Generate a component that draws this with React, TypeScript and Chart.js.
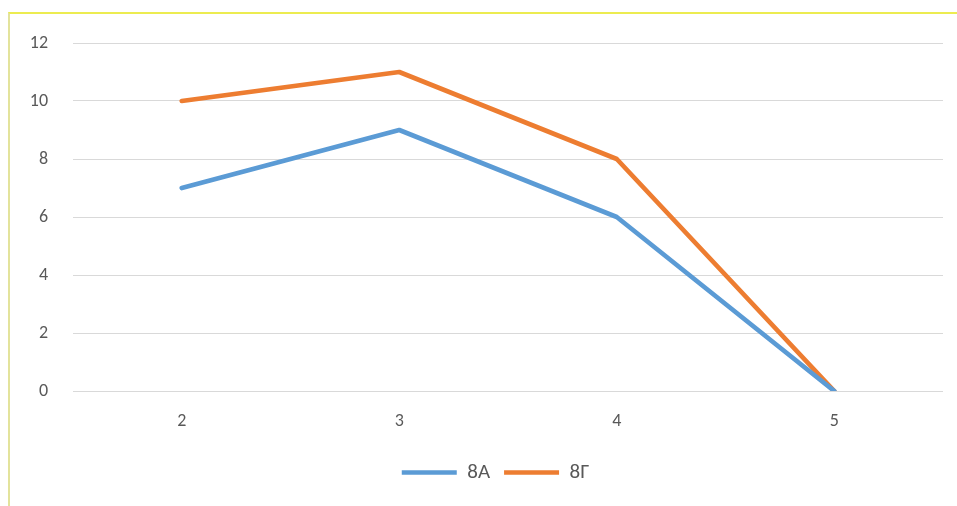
import React, { useEffect, useRef } from "react";
import { Chart, registerables } from "chart.js";

Chart.register(...registerables);

const categories = ["2", "3", "4", "5"];
const series8A = [7, 9, 6, 0];
const series8G = [10, 11, 8, 0];
const seriesNames = ["8А", "8Г"];
const yTicks = [0, 2, 4, 6, 8, 10, 12];

const FONT = "Carlito, Lato, 'Liberation Sans', sans-serif";

const legendShift = {
  id: "legendShift",
  afterLayout(chart: any) {
    const lg = chart.legend;
    if (!lg) return;
    const dx = 19;
    const dy = -5;
    lg.left += dx;
    lg.right += dx;
    lg.top += dy;
    lg.bottom += dy;
  },
};

export default function App() {
  const ref = useRef<HTMLCanvasElement | null>(null);

  useEffect(() => {
    document.body.style.margin = "0";
    document.body.style.overflow = "hidden";
    const canvas = ref.current;
    if (!canvas) return;
    const chart = new Chart(canvas, {
      type: "line",
      data: {
        labels: categories,
        datasets: [
          {
            label: seriesNames[0],
            data: series8A,
            borderColor: "#5b9bd5",
            backgroundColor: "#5b9bd5",
            borderWidth: 4.7,
            borderCapStyle: "round",
            borderJoinStyle: "round",
            pointRadius: 0,
            tension: 0,
          },
          {
            label: seriesNames[1],
            data: series8G,
            borderColor: "#ed7d31",
            backgroundColor: "#ed7d31",
            borderWidth: 4.7,
            borderCapStyle: "round",
            borderJoinStyle: "round",
            pointRadius: 0,
            tension: 0,
          },
        ],
      },
      plugins: [legendShift],
      options: {
        responsive: false,
        animation: false,
        layout: { padding: { top: 29, right: 14, left: 0, bottom: 8 } },
        plugins: {
          tooltip: { enabled: false },
          legend: {
            position: "bottom",
            labels: {
              usePointStyle: true,
              pointStyle: "line",
              pointStyleWidth: 55,
              padding: 14,
              color: "#595959",
              font: { family: FONT, size: 21 },
            },
          },
        },
        scales: {
          x: {
            offset: true,
            grid: { display: false, drawTicks: false },
            border: { display: false },
            ticks: {
              color: "#595959",
              padding: 20,
              font: { family: FONT, size: 18 },
            },
            afterFit: (s: any) => {
              s.height = 62;
            },
          },
          y: {
            min: 0,
            max: 12,
            grid: { color: "#d9d9d9", lineWidth: 1, drawTicks: false },
            border: { display: false },
            afterBuildTicks: (s: any) => {
              s.ticks = yTicks.map((v) => ({ value: v }));
            },
            ticks: {
              color: "#595959",
              padding: 25,
              font: { family: FONT, size: 18 },
            },
            afterFit: (s: any) => {
              s.width = 63;
              s.paddingTop = 0;
              s.paddingBottom = 0;
            },
          },
        },
      },
    });
    return () => chart.destroy();
  }, []);

  return (
    <div
      style={{
        position: "absolute",
        left: 8,
        top: 12,
        width: 949,
        height: 500,
        borderTop: "2px solid #ecec50",
        borderLeft: "2px solid #e3e39c",
        background: "#fff",
      }}
    >
      <canvas ref={ref} width={947} height={492} style={{ display: "block" }} />
    </div>
  );
}
